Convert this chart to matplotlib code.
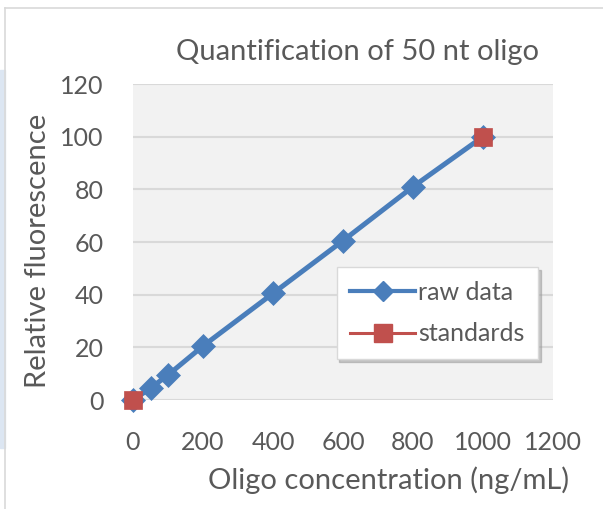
import matplotlib.pyplot as plt
from matplotlib.patches import Rectangle
from matplotlib.lines import Line2D

# data
raw_x = [0, 50, 100, 200, 400, 600, 800, 1000]
raw_y = [0, 4.5, 9.5, 20.5, 40.5, 60.5, 81, 100]
std_x = [0, 1000]
std_y = [0, 100]
x_ticks = [0, 200, 400, 600, 800, 1000, 1200]
y_ticks = [0, 20, 40, 60, 80, 100, 120]

W, H = 603, 509
TXT = '#595959'
BLUE = '#4a7ebb'
RED = '#c0504d'
plt.rcParams['font.family'] = ['Lato', 'DejaVu Sans']

fig = plt.figure(figsize=(W / 100, H / 100), dpi=100)

# outer frame pieces (chart area border + blue strip from the sheet)
fig.patches.append(Rectangle((0, (H - 448) / H), 5 / W, (448 - 70) / H,
                             transform=fig.transFigure, color='#dce6f2', zorder=0))
fig.lines.append(Line2D([5 / W, 5 / W], [0, 1 - 8 / H], transform=fig.transFigure,
                        color='#d9d9d9', lw=1.2))
fig.lines.append(Line2D([5 / W, 1], [1 - 8 / H, 1 - 8 / H], transform=fig.transFigure,
                        color='#d9d9d9', lw=1.2))

ax = fig.add_axes([133 / W, (H - 400) / H, 420 / W, 316 / H])
ax.set_facecolor('#f2f2f2')
ax.set_xlim(0, 1200)
ax.set_ylim(0, 120)
ax.set_xticks(x_ticks)
ax.set_yticks(y_ticks)
for s in ax.spines.values():
    s.set_visible(False)
ax.yaxis.grid(True, color='#d9d9d9', lw=1.5)
ax.set_axisbelow(True)
ax.tick_params(length=0, labelsize=18, colors=TXT)
ax.tick_params(axis='y', pad=21)
ax.tick_params(axis='x', pad=22)

ax.plot(raw_x, raw_y, color=BLUE, lw=3.6, marker='D', ms=12,
        mfc=BLUE, mec=BLUE, mew=0.5, clip_on=False, zorder=3)
ax.plot(std_x, std_y, linestyle='none', marker='s', ms=12.5,
        mfc=RED, mec=RED, mew=0.5, clip_on=False, zorder=4)

# legend handles (line + marker like Excel)
h_raw = Line2D([], [], color=BLUE, lw=3, marker='D', ms=10)
h_std = Line2D([], [], color=RED, lw=2.2, marker='s', ms=12.5)
leg = ax.legend([h_raw, h_std], ['raw data', 'standards'], loc='upper left',
                bbox_to_anchor=(0.485, 0.421), borderaxespad=0, fontsize=18,
                fancybox=False, edgecolor='#d9d9d9', framealpha=1,
                handlelength=2.6, handletextpad=0.1, labelspacing=0.75,
                borderpad=0.55,
                shadow={'color': '#999999', 'alpha': 0.5})
for t in leg.get_texts():
    t.set_color(TXT)

fig.text(357 / W, 1 - 52 / H, 'Quantification of 50 nt oligo', ha='center', va='center',
         fontsize=21, color=TXT)
fig.text(389 / W, 1 - 480 / H, 'Oligo concentration (ng/mL)', ha='center', va='center',
         fontsize=21, color=TXT)
fig.text(38 / W, 1 - 251 / H, 'Relative fluorescence', ha='center', va='center',
         rotation=90, fontsize=21, color=TXT)

fig.savefig('out.png', dpi=100)
